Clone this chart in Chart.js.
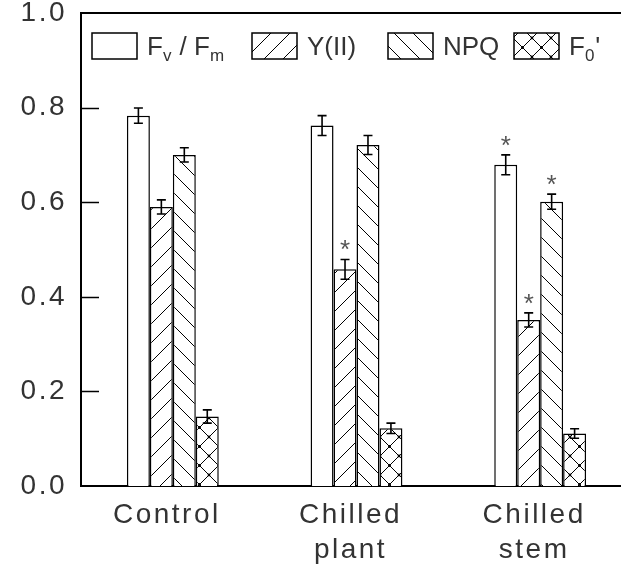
<!DOCTYPE html>
<html>
<head>
<meta charset="utf-8">
<script src="https://cdn.jsdelivr.net/npm/chart.js@4.4.1/dist/chart.umd.min.js"></script>
<style>
html,body{margin:0;padding:0;background:#fff;overflow:hidden;width:621px;height:571px;}
canvas{display:block;}
</style>
</head>
<body>
<canvas id="c" width="640" height="571"></canvas>
<script>
// ---- data ----
const categories = ["Control", ["Chilled", "plant"], ["Chilled", "stem"]];
const seriesNames = ["Fv / Fm", "Y(II)", "NPQ", "F0'"];
const fvfm    = [0.783, 0.762, 0.679];
const fvfmErr = [0.016, 0.021, 0.021];
const yii     = [0.590, 0.458, 0.351];
const yiiErr  = [0.015, 0.021, 0.015];
const npq     = [0.700, 0.721, 0.601];
const npqErr  = [0.015, 0.020, 0.016];
const f0      = [0.147, 0.122, 0.111];
const f0Err   = [0.014, 0.011, 0.010];
const fvfmStar = [false, false, true];
const yiiStar  = [false, true, true];
const npqStar  = [false, false, true];
const f0Star   = [false, false, false];
const yTickLabels = ["0.0", "0.2", "0.4", "0.6", "0.8", "1.0"];

const FONT = "'Liberation Sans', Arial, sans-serif";
const TXT = "#333";

function makePattern(kind) {
  const T = 19;
  const c = document.createElement('canvas');
  c.width = T; c.height = T;
  const g = c.getContext('2d');
  g.fillStyle = '#fff'; g.fillRect(0, 0, T, T);
  g.strokeStyle = '#000'; g.lineWidth = 1;
  const fwd = () => { g.beginPath(); g.moveTo(-2, T + 2); g.lineTo(T + 2, -2); g.moveTo(-2, 2); g.lineTo(2, -2); g.moveTo(T - 2, T + 2); g.lineTo(T + 2, T - 2); g.stroke(); };
  const back = () => { g.beginPath(); g.moveTo(-2, -2); g.lineTo(T + 2, T + 2); g.moveTo(T - 2, -2); g.lineTo(T + 2, 2); g.moveTo(-2, T - 2); g.lineTo(2, T + 2); g.stroke(); };
  if (kind === 'fwd') fwd();
  if (kind === 'back') back();
  if (kind === 'cross') {
    fwd(); back();
    g.fillStyle = '#000';
    [[T / 2, T / 2], [0, 0], [T, 0], [0, T], [T, T]].forEach(p => { g.beginPath(); g.arc(p[0], p[1], 1.4, 0, Math.PI * 2); g.fill(); });
  }
  return document.getElementById('c').getContext('2d').createPattern(c, 'repeat');
}

const fills = ['#ffffff', makePattern('fwd'), makePattern('back'), makePattern('cross')];
const errs = [fvfmErr, yiiErr, npqErr, f0Err];
const stars = [fvfmStar, yiiStar, npqStar, f0Star];

const datasets = [fvfm, yii, npq, f0].map((d, i) => ({
  label: seriesNames[i],
  data: d,
  backgroundColor: fills[i],
  borderColor: '#000',
  borderWidth: 1.5,
  borderSkipped: 'bottom',
  categoryPercentage: 0.5,
  barPercentage: 1.0
}));

const spacing = {
  id: 'spacing',
  beforeDraw(chart) { chart.ctx.letterSpacing = '2.5px'; }
};

const extras = {
  id: 'extras',
  afterDatasetsDraw(chart) {
    const ctx = chart.ctx;
    const y = chart.scales.y;
    const ca = chart.chartArea;
    ctx.save();
    ctx.letterSpacing = '0px';
    // error bars and stars
    chart.data.datasets.forEach((ds, di) => {
      const meta = chart.getDatasetMeta(di);
      meta.data.forEach((bar, i) => {
        const v = ds.data[i], e = errs[di][i];
        const yt = y.getPixelForValue(v + e), yb = y.getPixelForValue(v - e);
        const x = bar.x;
        ctx.strokeStyle = '#000'; ctx.lineWidth = 1.6;
        ctx.beginPath();
        ctx.moveTo(x, yt); ctx.lineTo(x, yb);
        ctx.moveTo(x - 4.5, yt); ctx.lineTo(x + 4.5, yt);
        ctx.moveTo(x - 4.5, yb); ctx.lineTo(x + 4.5, yb);
        ctx.stroke();
        if (stars[di][i]) {
          ctx.font = '26px ' + FONT;
          ctx.fillStyle = '#555';
          ctx.textAlign = 'center';
          ctx.textBaseline = 'alphabetic';
          const m = ctx.measureText('*');
          const target = yt - 14;
          const base = target + (m.actualBoundingBoxAscent - m.actualBoundingBoxDescent) / 2;
          ctx.fillText('*', x, base);
        }
      });
    });
    // top frame line
    ctx.strokeStyle = '#000'; ctx.lineWidth = 2;
    ctx.beginPath(); ctx.moveTo(ca.left - 1, ca.top); ctx.lineTo(chart.width, ca.top); ctx.stroke();
    // inward y ticks
    ctx.lineWidth = 1.5;
    y.ticks.forEach(t => {
      if (t.value <= 0 || t.value >= 1) return;
      const py = Math.round(y.getPixelForValue(t.value)) + 0.5;
      ctx.beginPath(); ctx.moveTo(ca.left, py); ctx.lineTo(ca.left + 18, py); ctx.stroke();
    });
    // legend
    const slots = [92, 252, 388, 514];
    const bw = 45, bh = 26, by = 33;
    chart.data.datasets.forEach((ds, di) => {
      const x0 = slots[di];
      ctx.fillStyle = ds.backgroundColor;
      ctx.fillRect(x0, by, bw, bh);
      ctx.strokeStyle = '#000'; ctx.lineWidth = 1.5;
      ctx.strokeRect(x0, by, bw, bh);
      let tx = x0 + bw + 10;
      const base = by + bh / 2 + 9;
      ctx.fillStyle = TXT;
      ctx.textAlign = 'left'; ctx.textBaseline = 'alphabetic';
      const parts = {
        0: [['F', 0], ['v', 1], [' / F', 0], ['m', 1]],
        1: [['Y(II)', 0]],
        2: [['NPQ', 0]],
        3: [['F', 0], ['0', 1], ["'", 0]]
      }[di];
      parts.forEach(([s, sub]) => {
        ctx.font = (sub ? '17px ' : '26px ') + FONT;
        ctx.fillText(s, tx, base + (sub ? 6 : 0));
        tx += ctx.measureText(s).width + (sub ? 1 : 0);
      });
    });
    ctx.restore();
  }
};

new Chart(document.getElementById('c'), {
  type: 'bar',
  data: { labels: categories, datasets },
  options: {
    responsive: false,
    animation: false,
    layout: { padding: { left: 0, right: 8, top: 13, bottom: 0 } },
    plugins: { legend: { display: false }, tooltip: { enabled: false } },
    scales: {
      x: {
        grid: { display: false, drawTicks: false },
        border: { color: '#000', width: 2 },
        ticks: { color: TXT, font: { family: FONT, size: 28, lineHeight: 1.25 }, padding: 12, labelOffset: -6, maxRotation: 0, autoSkip: false },
        afterFit(s) { s.height = 85; s.paddingLeft = 0; s.paddingRight = 0; }
      },
      y: {
        min: 0, max: 1,
        grid: { display: false, drawTicks: false },
        border: { color: '#000', width: 2 },
        ticks: {
          stepSize: 0.2,
          color: TXT,
          font: { family: FONT, size: 28 },
          padding: 14,
          callback: (v) => yTickLabels[Math.round(v / 0.2)]
        },
        afterFit(s) { s.width = 81; s.paddingTop = 0; s.paddingBottom = 0; }
      }
    }
  },
  plugins: [spacing, extras]
});
</script>
</body>
</html>
